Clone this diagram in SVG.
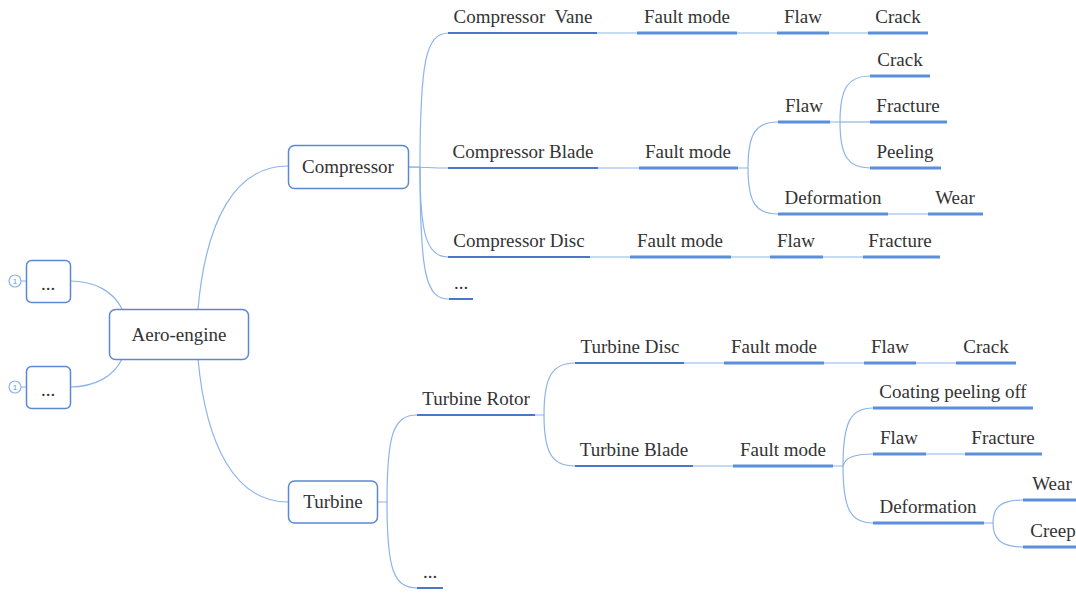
<svg xmlns="http://www.w3.org/2000/svg" width="1076" height="595" viewBox="0 0 1076 595">
<style>
.t{font-family:"Liberation Serif","Times New Roman",serif;font-size:19px;fill:#333;text-anchor:middle}
.box{fill:#fff;stroke:#5b87d4;stroke-width:1.5}
.u1{fill:none;stroke:#4a78c6;stroke-width:2}
.u2{fill:none;stroke:#5b8fdc;stroke-width:3}
.num{fill:#fff;stroke:#8cb3ea;stroke-width:1.2}
.numt{font-family:"Liberation Sans",Arial,sans-serif;font-size:8px;fill:#6a98e0;text-anchor:middle}
</style>
<rect width="1076" height="595" fill="#fff"/>
<g id="connectors" fill="none" stroke="#8cb3ea" stroke-width="1.2">
<path d="M21,281 H27 M21,387 H27"/>
<path d="M70,281 C95,281 114,292 122,309"/>
<path d="M70,387 C95,387 114,376 122,359"/>
<path d="M198,309 C206,220 235,166 288,166"/>
<path d="M198,359 C206,445 235,502 288,502"/>
<path d="M408,167 H420 C420,60 426,33 449,33"/>
<path d="M408,167 C425,167 430,168 449,168"/>
<path d="M420,167 C420,232 426,257 448,257"/>
<path d="M420,167 C420,275 426,299 449,299"/>
<path d="M597,33 H637 M737,33 H777 M829,33 H868"/>
<path d="M598,168 H639"/>
<path d="M738,168 H748 C748,133 756,122 778,122"/>
<path d="M748,168 C748,203 756,214 778,214"/>
<path d="M830,122 H840 C840,88 848,76 870,76"/>
<path d="M840,122 H870"/>
<path d="M840,122 C840,156 848,168 870,168"/>
<path d="M888,214 H928"/>
<path d="M590,257 H630 M731,257 H770 M823,257 H863"/>
<path d="M377,502 H387 C387,435 393,415 417,415"/>
<path d="M387,502 C387,568 393,588 417,588"/>
<path d="M535,415 H544 C544,377 552,363 575,363"/>
<path d="M544,415 C544,453 552,466 575,466"/>
<path d="M684,363 H724 M824,363 H864 M916,363 H956"/>
<path d="M693,466 H733"/>
<path d="M833,466 H843 C843,421 851,408 873,408"/>
<path d="M843,466 C845,458 853,454 873,454"/>
<path d="M843,466 C843,510 851,523 873,523"/>
<path d="M926,454 H965"/>
<path d="M984,523 H993 C993,507 1001,500 1023,500"/>
<path d="M993,523 C993,539 1001,547 1023,547"/>
</g>
<g id="root"><rect class="box" x="109.5" y="309.5" width="139" height="50" rx="6"/><text class="t" font-family="Liberation Serif" x="179" y="341">Aero-engine</text></g>
<g id="left1"><circle class="num" cx="15" cy="281" r="6"/><text class="numt" x="15" y="284">1</text><rect class="box" x="26.5" y="260.5" width="44" height="42" rx="5"/><text class="t" font-family="Liberation Serif" x="48" y="290">...</text></g>
<g id="left2"><circle class="num" cx="15" cy="387" r="6"/><text class="numt" x="15" y="390">1</text><rect class="box" x="26.5" y="366.5" width="44" height="42" rx="5"/><text class="t" font-family="Liberation Serif" x="48" y="396">...</text></g>
<g id="compressor"><rect class="box" x="288.5" y="145.5" width="120" height="43" rx="6"/><text class="t" font-family="Liberation Serif" x="348" y="173">Compressor</text></g>
<g id="turbine"><rect class="box" x="288.5" y="481" width="89" height="42" rx="6"/><text class="t" font-family="Liberation Serif" x="333" y="508">Turbine</text></g>
<g id="c-vane"><path class="u1" d="M448,33 H597"/><text class="t" font-family="Liberation Serif" x="523" y="23">Compressor&#160; Vane</text></g>
<g id="c-blade"><path class="u1" d="M448,168 H598"/><text class="t" font-family="Liberation Serif" x="523" y="158">Compressor Blade</text></g>
<g id="c-disc"><path class="u1" d="M448,257 H590"/><text class="t" font-family="Liberation Serif" x="519" y="247">Compressor Disc</text></g>
<g id="c-more"><path class="u1" d="M449,299 H473"/><text class="t" font-family="Liberation Serif" x="461" y="289">...</text></g>
<g id="t-rotor"><path class="u1" d="M417,415 H535"/><text class="t" font-family="Liberation Serif" x="476" y="405">Turbine Rotor</text></g>
<g id="t-more"><path class="u1" d="M417,588 H443"/><text class="t" font-family="Liberation Serif" x="430" y="578">...</text></g>
<g id="t-disc"><path class="u1" d="M575,363 H684"/><text class="t" font-family="Liberation Serif" x="630" y="353">Turbine Disc</text></g>
<g id="t-blade"><path class="u1" d="M575,466 H693"/><text class="t" font-family="Liberation Serif" x="634" y="456">Turbine Blade</text></g>
<g id="c-vane-fm"><path class="u2" d="M637,33 H737"/><text class="t" font-family="Liberation Serif" x="687" y="23">Fault mode</text></g>
<g id="c-vane-flaw"><path class="u2" d="M777,33 H829"/><text class="t" font-family="Liberation Serif" x="803" y="23">Flaw</text></g>
<g id="c-vane-crack"><path class="u2" d="M868,33 H928"/><text class="t" font-family="Liberation Serif" x="898" y="23">Crack</text></g>
<g id="c-blade-fm"><path class="u2" d="M639,168 H738"/><text class="t" font-family="Liberation Serif" x="688" y="158">Fault mode</text></g>
<g id="c-blade-flaw"><path class="u2" d="M778,122 H830"/><text class="t" font-family="Liberation Serif" x="804" y="112">Flaw</text></g>
<g id="c-blade-crack"><path class="u2" d="M870,76 H930"/><text class="t" font-family="Liberation Serif" x="900" y="66">Crack</text></g>
<g id="c-blade-fracture"><path class="u2" d="M870,122 H947"/><text class="t" font-family="Liberation Serif" x="908" y="112">Fracture</text></g>
<g id="c-blade-peeling"><path class="u2" d="M870,168 H941"/><text class="t" font-family="Liberation Serif" x="905" y="158">Peeling</text></g>
<g id="c-blade-deform"><path class="u2" d="M778,214 H888"/><text class="t" font-family="Liberation Serif" x="833" y="204">Deformation</text></g>
<g id="c-blade-wear"><path class="u2" d="M928,214 H983"/><text class="t" font-family="Liberation Serif" x="955" y="204">Wear</text></g>
<g id="c-disc-fm"><path class="u2" d="M630,257 H731"/><text class="t" font-family="Liberation Serif" x="680" y="247">Fault mode</text></g>
<g id="c-disc-flaw"><path class="u2" d="M770,257 H823"/><text class="t" font-family="Liberation Serif" x="796" y="247">Flaw</text></g>
<g id="c-disc-fracture"><path class="u2" d="M863,257 H940"/><text class="t" font-family="Liberation Serif" x="900" y="247">Fracture</text></g>
<g id="t-disc-fm"><path class="u2" d="M724,363 H824"/><text class="t" font-family="Liberation Serif" x="774" y="353">Fault mode</text></g>
<g id="t-disc-flaw"><path class="u2" d="M864,363 H916"/><text class="t" font-family="Liberation Serif" x="890" y="353">Flaw</text></g>
<g id="t-disc-crack"><path class="u2" d="M956,363 H1016"/><text class="t" font-family="Liberation Serif" x="986" y="353">Crack</text></g>
<g id="t-blade-fm"><path class="u2" d="M733,466 H833"/><text class="t" font-family="Liberation Serif" x="783" y="456">Fault mode</text></g>
<g id="t-blade-coating"><path class="u2" d="M873,408 H1033"/><text class="t" font-family="Liberation Serif" x="953" y="398">Coating peeling off</text></g>
<g id="t-blade-flaw"><path class="u2" d="M873,454 H926"/><text class="t" font-family="Liberation Serif" x="899" y="444">Flaw</text></g>
<g id="t-blade-fracture"><path class="u2" d="M965,454 H1042"/><text class="t" font-family="Liberation Serif" x="1003" y="444">Fracture</text></g>
<g id="t-blade-deform"><path class="u2" d="M873,523 H984"/><text class="t" font-family="Liberation Serif" x="928" y="513">Deformation</text></g>
<g id="t-blade-wear"><path class="u2" d="M1023,500 H1076"/><text class="t" font-family="Liberation Serif" x="1052" y="490">Wear</text></g>
<g id="t-blade-creep"><path class="u2" d="M1023,547 H1076"/><text class="t" font-family="Liberation Serif" x="1053" y="537">Creep</text></g>
</svg>
